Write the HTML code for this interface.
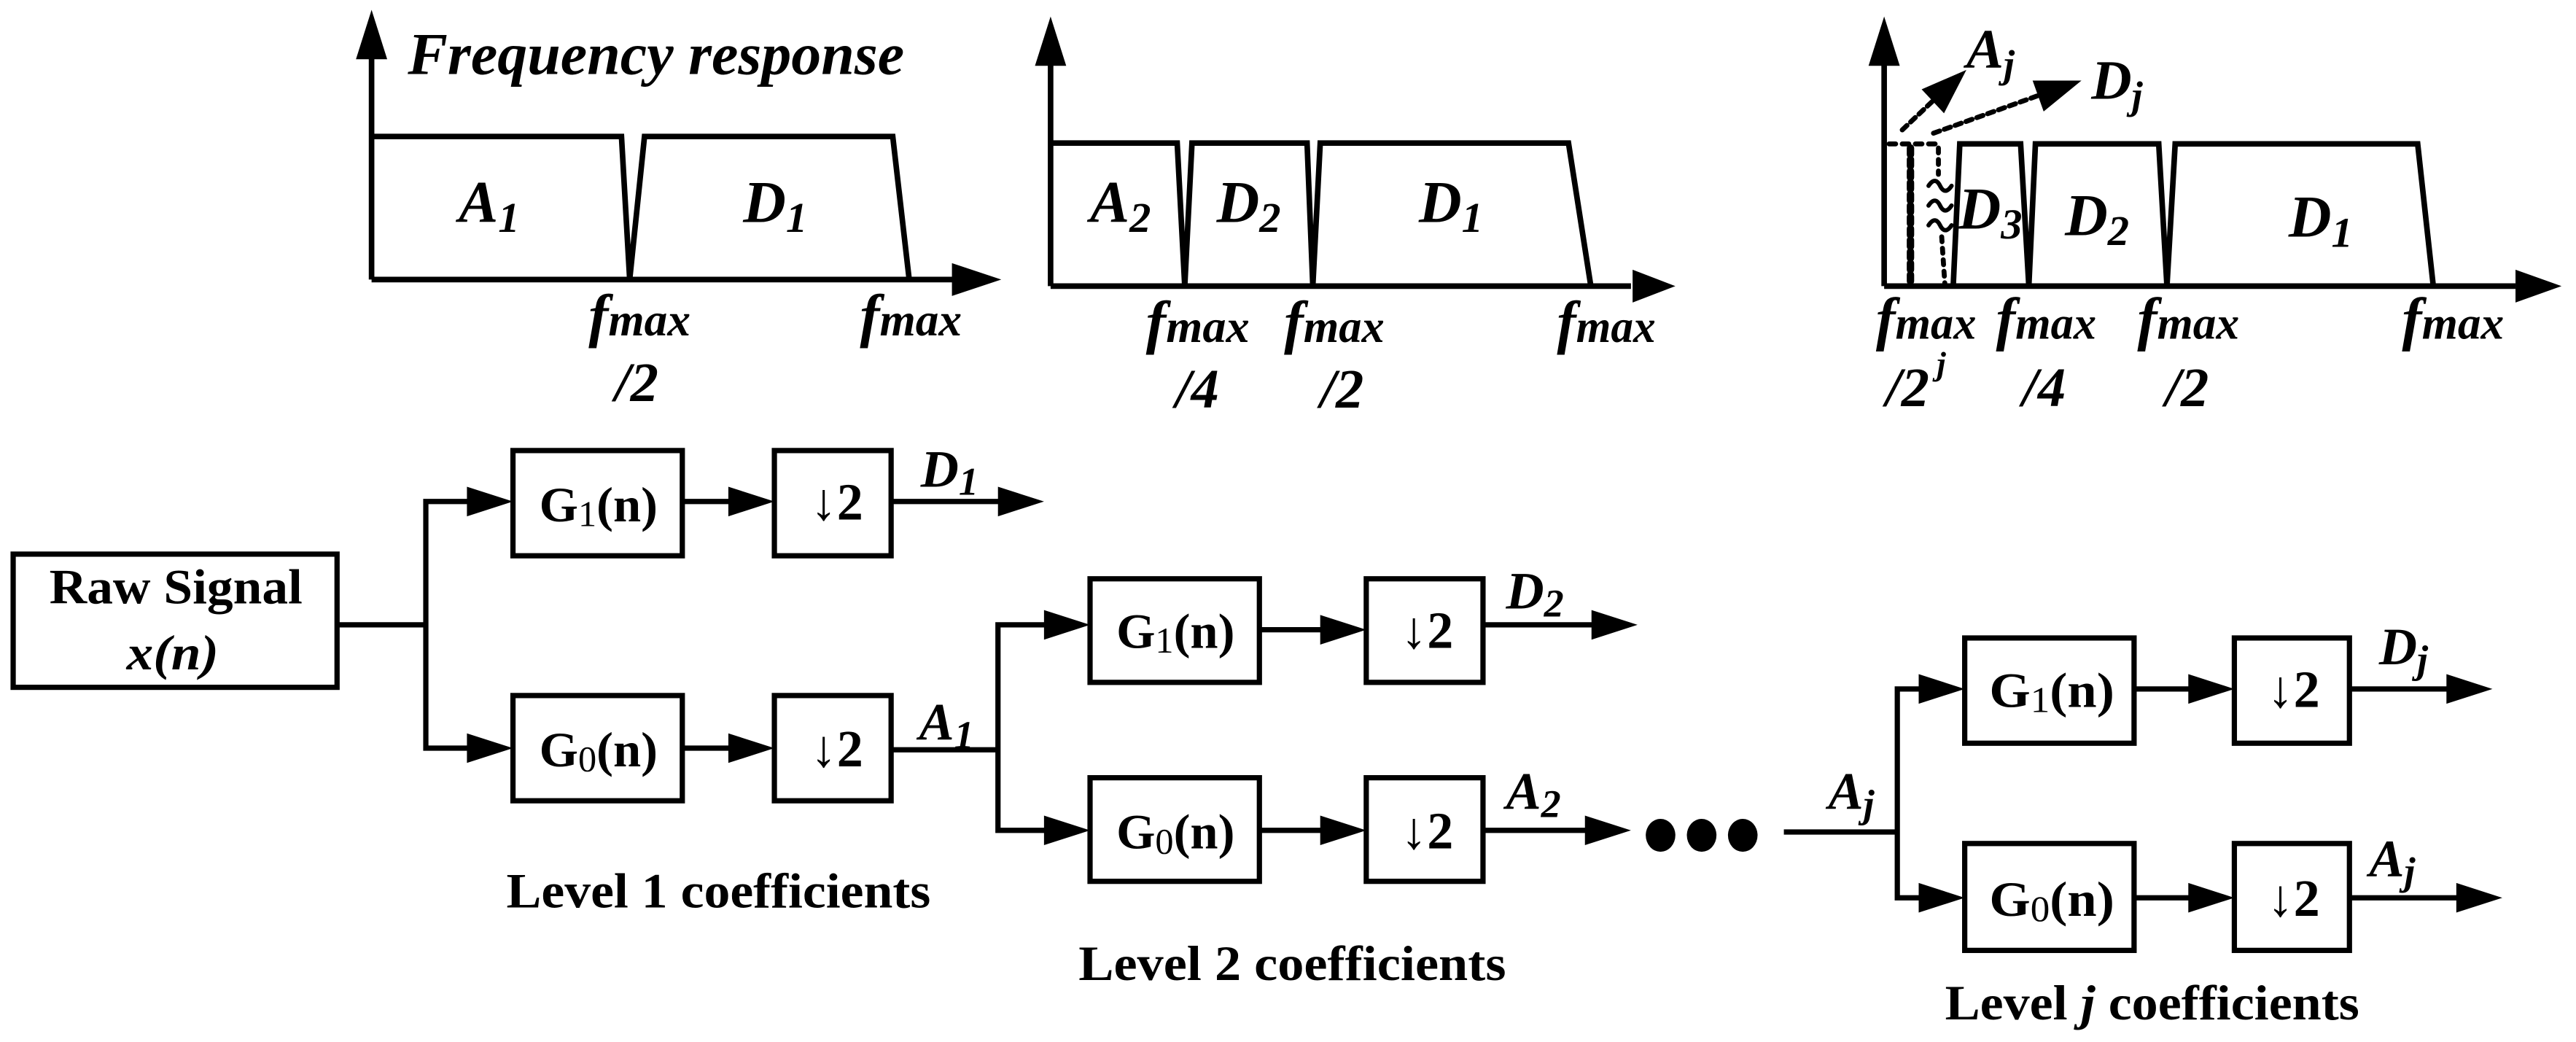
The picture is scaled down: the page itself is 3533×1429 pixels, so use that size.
<!DOCTYPE html>
<html><head><meta charset="utf-8">
<style>
html,body{margin:0;padding:0;background:#fff;}
svg{display:block;}
text{font-family:"Liberation Serif",serif;font-weight:bold;fill:#000;}
.i{font-style:italic;}
</style></head>
<body>
<svg width="3533" height="1429" viewBox="0 0 1566.8 633.7" xmlns="http://www.w3.org/2000/svg">
<g fill="none" stroke="#000" stroke-width="3.4" stroke-linejoin="miter">
<line x1="226" y1="170" x2="226" y2="34"/>
<line x1="226" y1="170" x2="580" y2="170"/>
<polyline points="226,83 378,83 383,170 392,83 543,83 553,170"/>
<line x1="639" y1="174" x2="639" y2="38"/>
<line x1="639" y1="174" x2="992" y2="174"/>
<polyline points="639,87 716,87 720.6,174 725,87 795,87 798.5,174 803,87 954,87 967.6,174"/>
<line x1="1146" y1="174" x2="1146" y2="38"/>
<line x1="1146" y1="174" x2="1530" y2="174"/>
<polyline points="1188,174 1192,87.5 1229,87.5 1234,174 1238,87.5 1313,87.5 1318,174 1323,87.5 1470.5,87.5 1480,174"/>
</g>
<g fill="#000">
<polygon points="216.5,36 226,6 235.5,36"/>
<polygon points="579,160 609,170 579,180"/>
<polygon points="629.5,40 639,10 648.5,40"/>
<polygon points="993,164 1019,174 993,184"/>
<polygon points="1136.5,40 1146,10 1155.5,40"/>
<polygon points="1530,164 1558,174 1530,184"/>
</g>
<g fill="none" stroke="#000" stroke-linecap="round">
<line x1="1149" y1="87.5" x2="1180" y2="87.5" stroke-width="3" stroke-dasharray="4 4"/>
<line x1="1162" y1="90" x2="1162" y2="174" stroke-width="4.5" stroke-dasharray="4 3"/>
<line x1="1179" y1="90" x2="1179" y2="106" stroke-width="3" stroke-dasharray="3 4"/>
<line x1="1181" y1="144" x2="1183" y2="174" stroke-width="3" stroke-dasharray="3 4"/>
<path d="M1173,113 q4,-6 7,0 t7,0 M1173,125 q4,-6 7,0 t7,0 M1173,137 q4,-6 7,0 t7,0" stroke-width="2.6"/>
<line x1="1157" y1="79" x2="1176" y2="61" stroke-width="3" stroke-dasharray="4 3"/>
<line x1="1176" y1="81" x2="1240" y2="58" stroke-width="3" stroke-dasharray="4 3"/>
</g>
<g fill="#000">
<polygon points="1196,42.5 1182.4,68.9 1168.8,54.3"/>
<polygon points="1266,49 1243,67.8 1236.3,49"/>
</g>

<text class="i" x="248" y="45" font-size="36" textLength="302" lengthAdjust="spacingAndGlyphs">Frequency response</text>
<text class="i" x="279" y="135" font-size="36">A<tspan font-size="26" dy="6">1</tspan></text>
<text class="i" x="452" y="135" font-size="36">D<tspan font-size="26" dy="6">1</tspan></text>
<text class="i" x="358" y="204" font-size="36" textLength="62" lengthAdjust="spacingAndGlyphs">f<tspan font-size="28">max</tspan></text>
<text class="i" x="374" y="244" font-size="34">/2</text>
<text class="i" x="523" y="204" font-size="36" textLength="62" lengthAdjust="spacingAndGlyphs">f<tspan font-size="28">max</tspan></text>

<text class="i" x="663" y="135" font-size="36">A<tspan font-size="26" dy="6">2</tspan></text>
<text class="i" x="740" y="135" font-size="36">D<tspan font-size="26" dy="6">2</tspan></text>
<text class="i" x="863" y="135" font-size="36">D<tspan font-size="26" dy="6">1</tspan></text>
<text class="i" x="697" y="208" font-size="36" textLength="63" lengthAdjust="spacingAndGlyphs">f<tspan font-size="28">max</tspan></text>
<text class="i" x="715" y="248" font-size="34">/4</text>
<text class="i" x="781" y="208" font-size="36" textLength="61" lengthAdjust="spacingAndGlyphs">f<tspan font-size="28">max</tspan></text>
<text class="i" x="803" y="248" font-size="34">/2</text>
<text class="i" x="947" y="208" font-size="36" textLength="60" lengthAdjust="spacingAndGlyphs">f<tspan font-size="28">max</tspan></text>

<text class="i" x="1196" y="41" font-size="34">A<tspan font-size="24" dy="6">j</tspan></text>
<text class="i" x="1272" y="60" font-size="34">D<tspan font-size="24" dy="6">j</tspan></text>
<text class="i" x="1191" y="139" font-size="36">D<tspan font-size="26" dy="6">3</tspan></text>
<text class="i" x="1256" y="143" font-size="36">D<tspan font-size="26" dy="6">2</tspan></text>
<text class="i" x="1392" y="144" font-size="36">D<tspan font-size="26" dy="6">1</tspan></text>
<text class="i" x="1141" y="206" font-size="36" textLength="61" lengthAdjust="spacingAndGlyphs">f<tspan font-size="28">max</tspan></text>
<text class="i" x="1147" y="247" font-size="34">/2</text>
<text class="i" x="1178" y="228" font-size="20">j</text>
<text class="i" x="1214" y="206" font-size="36" textLength="61" lengthAdjust="spacingAndGlyphs">f<tspan font-size="28">max</tspan></text>
<text class="i" x="1230" y="247" font-size="34">/4</text>
<text class="i" x="1300" y="206" font-size="36" textLength="62" lengthAdjust="spacingAndGlyphs">f<tspan font-size="28">max</tspan></text>
<text class="i" x="1317" y="247" font-size="34">/2</text>
<text class="i" x="1461" y="206" font-size="36" textLength="62" lengthAdjust="spacingAndGlyphs">f<tspan font-size="28">max</tspan></text>

<g fill="none" stroke="#000" stroke-width="3.2">
<rect x="8" y="337" width="197" height="81"/>
<polyline points="205,380 259,380"/>
<polyline points="286,305 259,305 259,455 286,455"/>
<rect x="312" y="274" width="103" height="64"/>
<rect x="471" y="274" width="71" height="64"/>
<rect x="312" y="423" width="103" height="64"/>
<rect x="471" y="423" width="71" height="64"/>
<line x1="415" y1="305" x2="445" y2="305"/>
<line x1="415" y1="455" x2="445" y2="455"/>
<line x1="542" y1="305" x2="609" y2="305"/>
<line x1="542" y1="456" x2="607" y2="456"/>
<polyline points="637,380 607,380 607,505 637,505"/>
<rect x="663" y="352" width="103" height="63"/>
<rect x="831" y="352" width="71" height="63"/>
<rect x="663" y="473" width="103" height="63"/>
<rect x="831" y="473" width="71" height="63"/>
<line x1="766" y1="383" x2="805" y2="383"/>
<line x1="766" y1="505" x2="805" y2="505"/>
<line x1="902" y1="380" x2="970" y2="380"/>
<line x1="902" y1="505" x2="966" y2="505"/>
<line x1="1085" y1="506" x2="1154" y2="506"/>
<polyline points="1169,419 1154,419 1154,546 1169,546"/>
<rect x="1195" y="388" width="103" height="64"/>
<rect x="1359" y="388" width="70" height="64"/>
<rect x="1195" y="513" width="103" height="65"/>
<rect x="1359" y="513" width="70" height="65"/>
<line x1="1298" y1="419" x2="1333" y2="419"/>
<line x1="1298" y1="546" x2="1333" y2="546"/>
<line x1="1429" y1="419" x2="1490" y2="419"/>
<line x1="1429" y1="546" x2="1496" y2="546"/>
</g>
<g fill="#000">
<polygon points="284,296 312,305 284,314"/>
<polygon points="284,446 312,455 284,464"/>
<polygon points="443,296 471,305 443,314"/>
<polygon points="443,446 471,455 443,464"/>
<polygon points="607,296 635,305 607,314"/>
<polygon points="635,371 663,380 635,389"/>
<polygon points="635,496 663,505 635,514"/>
<polygon points="803,374 831,383 803,392"/>
<polygon points="803,496 831,505 803,514"/>
<polygon points="968,371 996,380 968,389"/>
<polygon points="964,496 992,505 964,514"/>
<ellipse cx="1010" cy="508" rx="9" ry="10"/>
<ellipse cx="1035" cy="508" rx="9" ry="10"/>
<ellipse cx="1060" cy="508" rx="9" ry="10"/>
<polygon points="1167,410 1195,419 1167,428"/>
<polygon points="1167,537 1195,546 1167,555"/>
<polygon points="1331,410 1359,419 1331,428"/>
<polygon points="1331,537 1359,546 1331,555"/>
<polygon points="1488,410 1516,419 1488,428"/>
<polygon points="1494,537 1522,546 1494,555"/>
</g>

<text x="30" y="367" font-size="30" textLength="154" lengthAdjust="spacingAndGlyphs">Raw Signal</text>
<text class="i" x="77" y="407" font-size="30" textLength="56" lengthAdjust="spacingAndGlyphs">x(n)</text>

<text x="328" y="317" font-size="30" textLength="72" lengthAdjust="spacingAndGlyphs">G<tspan font-size="22" dy="3" font-weight="normal">1</tspan><tspan dy="-3">(n)</tspan></text>
<text x="328" y="466" font-size="30" textLength="72" lengthAdjust="spacingAndGlyphs">G<tspan font-size="22" dy="3" font-weight="normal">0</tspan><tspan dy="-3">(n)</tspan></text>
<text x="493" y="316" font-size="32">↓2</text>
<text x="493" y="466" font-size="32">↓2</text>
<text class="i" x="560" y="296" font-size="32">D<tspan font-size="24" dy="5">1</tspan></text>
<text class="i" x="559" y="450" font-size="32">A<tspan font-size="24" dy="5">1</tspan></text>
<text x="308" y="552" font-size="30" textLength="258" lengthAdjust="spacingAndGlyphs">Level 1 coefficients</text>

<text x="679" y="394" font-size="30" textLength="72" lengthAdjust="spacingAndGlyphs">G<tspan font-size="22" dy="3" font-weight="normal">1</tspan><tspan dy="-3">(n)</tspan></text>
<text x="679" y="516" font-size="30" textLength="72" lengthAdjust="spacingAndGlyphs">G<tspan font-size="22" dy="3" font-weight="normal">0</tspan><tspan dy="-3">(n)</tspan></text>
<text x="852" y="394" font-size="32">↓2</text>
<text x="852" y="516" font-size="32">↓2</text>
<text class="i" x="916" y="370" font-size="32">D<tspan font-size="24" dy="5">2</tspan></text>
<text class="i" x="916" y="492" font-size="32">A<tspan font-size="24" dy="5">2</tspan></text>
<text x="656" y="596" font-size="30" textLength="260" lengthAdjust="spacingAndGlyphs">Level 2 coefficients</text>

<text class="i" x="1112" y="492" font-size="32">A<tspan font-size="24" dy="5">j</tspan></text>
<text x="1210" y="430" font-size="30" textLength="76" lengthAdjust="spacingAndGlyphs">G<tspan font-size="22" dy="3" font-weight="normal">1</tspan><tspan dy="-3">(n)</tspan></text>
<text x="1210" y="557" font-size="30" textLength="76" lengthAdjust="spacingAndGlyphs">G<tspan font-size="22" dy="3" font-weight="normal">0</tspan><tspan dy="-3">(n)</tspan></text>
<text x="1379" y="430" font-size="32">↓2</text>
<text x="1379" y="557" font-size="32">↓2</text>
<text class="i" x="1447" y="404" font-size="32">D<tspan font-size="24" dy="5">j</tspan></text>
<text class="i" x="1441" y="533" font-size="32">A<tspan font-size="24" dy="5">j</tspan></text>
<text x="1183" y="620" font-size="30" textLength="252" lengthAdjust="spacingAndGlyphs">Level <tspan font-style="italic">j</tspan> coefficients</text>
</svg>
</body></html>
